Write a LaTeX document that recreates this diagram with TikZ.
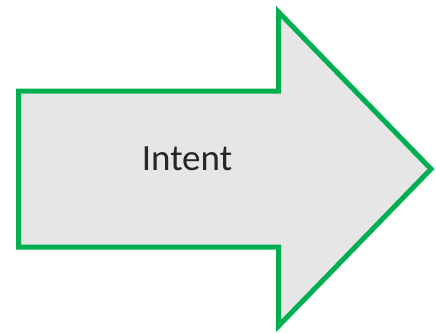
\documentclass[tikz,border=0pt]{standalone}
\usepackage{fontspec}
\setmainfont{Carlito}
\definecolor{arrowgreen}{HTML}{00B050}
\definecolor{arrowfill}{HTML}{E6E6E6}
\tikzset{bigarrow/.style={draw=arrowgreen, fill=arrowfill, line width=5pt, line join=miter, miter limit=10}}
\begin{document}
\begin{tikzpicture}[x=1pt,y=-1pt]
\useasboundingbox (0,0) rectangle (436,333);
\draw[bigarrow] (18.5,91) -- (278.5,91) -- (278.5,12) -- (431,169) -- (278.5,326) -- (278.5,247) -- (18.5,247) -- cycle;
\node[anchor=base, inner sep=0pt, font=\fontsize{37}{40}\selectfont, text=black!85] (label) at (187,170) {Intent};
\end{tikzpicture}
\end{document}
